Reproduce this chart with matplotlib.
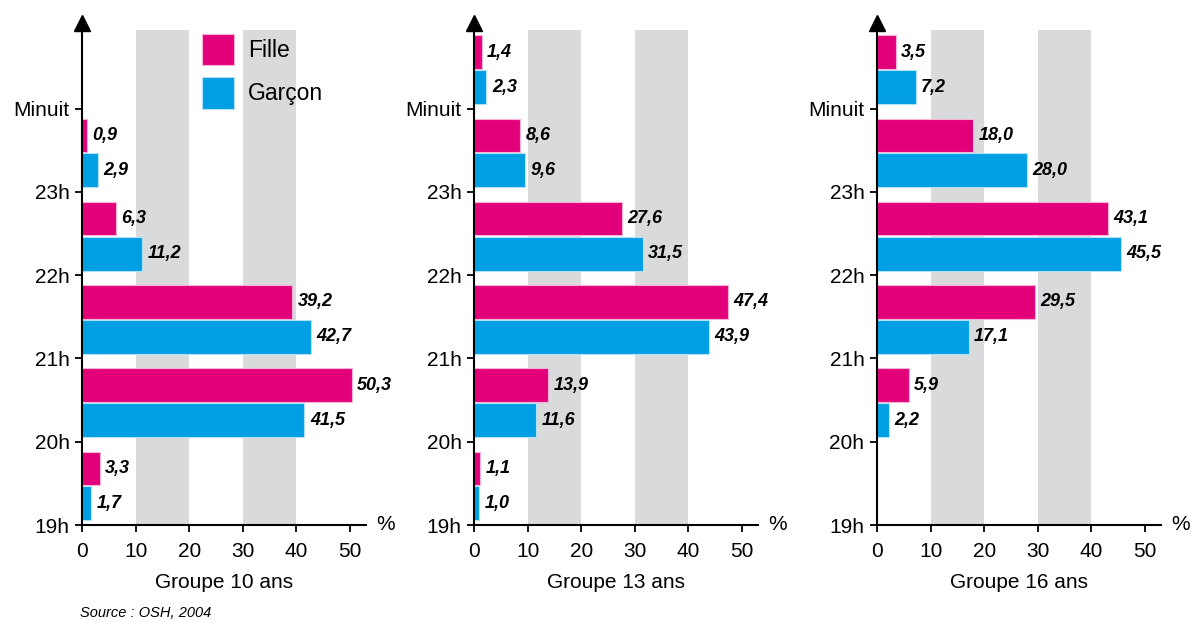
import numpy as np
import matplotlib.pyplot as plt

plt.rcParams['font.family'] = ['Liberation Sans', 'DejaVu Sans']

# hour slots: bar in slot [h, h+1]; 24 = Minuit
slots = [19, 20, 21, 22, 23, 24]
hour_labels = ["19h", "20h", "21h", "22h", "23h", "Minuit"]
hour_ticks = [19, 20, 21, 22, 23, 24]

groups = ["Groupe 10 ans", "Groupe 13 ans", "Groupe 16 ans"]
fille_10 = [3.3, 50.3, 39.2, 6.3, 0.9, np.nan]
garcon_10 = [1.7, 41.5, 42.7, 11.2, 2.9, np.nan]
fille_13 = [1.1, 13.9, 47.4, 27.6, 8.6, 1.4]
garcon_13 = [1.0, 11.6, 43.9, 31.5, 9.6, 2.3]
fille_16 = [np.nan, 5.9, 29.5, 43.1, 18.0, 3.5]
garcon_16 = [np.nan, 2.2, 17.1, 45.5, 28.0, 7.2]

PINK = "#e2007a"
BLUE = "#009fe3"
GRAY = "#d9dadc"

fig = plt.figure(figsize=(11.91, 6.22), dpi=100)
lefts = [82 / 1191, 474 / 1191, 877 / 1191]
data = [(fille_10, garcon_10), (fille_13, garcon_13), (fille_16, garcon_16)]


def fmt(v):
    return f"{v:.1f}".replace(".", ",")


for i, (left, (fille, garcon)) in enumerate(zip(lefts, data)):
    ax = fig.add_axes([left, 97 / 622, 284 / 1191, 502 / 622])
    ax.set_xlim(0, 53)
    ax.set_ylim(19, 25.03)

    # grey bands
    for x0, x1 in [(10, 20), (30, 40)]:
        ax.fill_betweenx([19, 24.94], x0, x1, color=GRAY, lw=0, zorder=0)

    ys = np.array(slots, dtype=float)
    f = np.array(fille, dtype=float)
    g = np.array(garcon, dtype=float)
    hb = ax.barh(ys + 0.68, f, height=0.40, color=PINK, edgecolor="#f7b3d5", lw=0.8, zorder=2, label="Fille")
    hg = ax.barh(ys + 0.26, g, height=0.41, color=BLUE, edgecolor="#b3e2f7", lw=0.8, zorder=2, label="Garçon")

    for y, v in zip(ys + 0.68, f):
        if not np.isnan(v):
            ax.annotate(fmt(v), (v, y), xytext=(4, 0), textcoords="offset points",
                        va="center", ha="left", fontsize=13, fontweight="bold", fontstyle="italic")
    for y, v in zip(ys + 0.26, g):
        if not np.isnan(v):
            ax.annotate(fmt(v), (v, y), xytext=(4, 0), textcoords="offset points",
                        va="center", ha="left", fontsize=13, fontweight="bold", fontstyle="italic")

    for s in ["top", "right"]:
        ax.spines[s].set_visible(False)
    ax.spines["left"].set_linewidth(1.5)
    ax.spines["bottom"].set_linewidth(1.5)
    ax.plot(0, 1, marker="^", color="black", markersize=11, transform=ax.transAxes, clip_on=False, zorder=5)

    ax.set_yticks(hour_ticks)
    ax.set_yticklabels(hour_labels)
    ax.set_xticks([0, 10, 20, 30, 40, 50])
    ax.tick_params(axis="both", labelsize=15, width=1.3, length=5, direction="out")
    ax.tick_params(axis="y", pad=4)
    ax.tick_params(axis="x", pad=7)
    ax.set_xlabel(groups[i], fontsize=15, labelpad=9)
    ax.text(1.035, 0, "%", transform=ax.transAxes, fontsize=15, va="center", ha="left")

    if i == 0:
        ax.legend(handles=[hb, hg], loc="upper left", bbox_to_anchor=(0.375, 1.006), frameon=False,
                  fontsize=16.5, handlelength=1.4, handleheight=1.75, handletextpad=0.6,
                  labelspacing=0.5, borderaxespad=0.2)

fig.text(80 / 1191, 1 - 613 / 622, "Source : OSH, 2004", fontsize=10.5, fontstyle="italic",
         va="center", ha="left")

fig.savefig("out.png", dpi=100)
